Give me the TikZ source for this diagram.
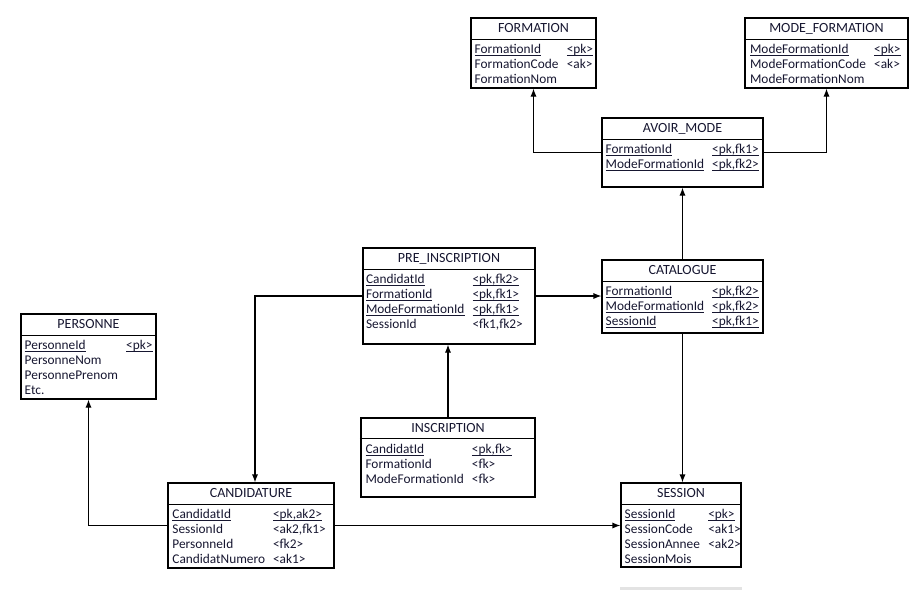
\documentclass[tikz,border=0pt]{standalone}
\usepackage{fontspec}
\setmainfont{Carlito}
\usetikzlibrary{arrows.meta,fit}
\definecolor{ink}{RGB}{22,22,48}
\newcommand\keyfield[1]{\underline{\smash{#1}}}
\newcommand\entity[2]{%
    \node[title] (#1-t) at ([yshift=-8.25pt]#1.north) {#2};
    \draw[line width=0.8pt] ([yshift=-16.5pt]#1.north west) -- ([yshift=-16.5pt]#1.north east);}
\begin{document}
\begin{tikzpicture}[x=0.75pt,y=-0.75pt,
        every node/.style = {font=\fontsize{10pt}{12pt}\selectfont, text=ink},
        table/.style = {draw, line width=0.8pt, inner sep=0pt},
        title/.style = {font=\fontsize{10.5pt}{12pt}\selectfont, inner sep=0pt},
        fields/.style = {inner sep=0pt, column sep=6pt, anchor=north west,
            nodes={anchor=base west, inner sep=0pt, text height=7.5pt, text depth=3.75pt}},
        link/.style = {line width=0.8pt, -{Latex[length=6pt,width=4.5pt]}}]
    \useasboundingbox (0,0) rectangle (924,590);

    \node[table, fit={(471,18) (596,88)}] (formation) {};
    \entity{formation}{FORMATION}
    \matrix [fields] (formation-f) at ([xshift=3pt,yshift=-19.5pt]formation.north west){
        \node {\keyfield{FormationId}}; & \node {\keyfield{<pk>}}; \\
        \node {FormationCode}; & \node {<ak>}; \\
        \node {FormationNom}; & \\
    };

    \node[table, fit={(745,18) (908,88)}] (modeformation) {};
    \entity{modeformation}{MODE\_FORMATION}
    \matrix [fields] (modeformation-f) at ([xshift=4pt,yshift=-19.5pt]modeformation.north west){
        \node {\keyfield{ModeFormationId}}; & \node {\keyfield{<pk>}}; \\
        \node {ModeFormationCode}; & \node {<ak>}; \\
        \node {ModeFormationNom}; & \\
    };

    \node[table, fit={(602,118) (763,187)}] (avoirmode) {};
    \entity{avoirmode}{AVOIR\_MODE}
    \matrix [fields] (avoirmode-f) at ([xshift=3pt,yshift=-19.5pt]avoirmode.north west){
        \node {\keyfield{FormationId}}; & \node {\keyfield{<pk,fk1>}}; \\
        \node {\keyfield{ModeFormationId}}; & \node {\keyfield{<pk,fk2>}}; \\
    };

    \node[table, fit={(363,248) (535,344)}] (preinscription) {};
    \entity{preinscription}{PRE\_INSCRIPTION}
    \matrix [fields] (preinscription-f) at ([xshift=2.5pt,yshift=-19.5pt]preinscription.north west){
        \node {\keyfield{CandidatId}}; & \node {\keyfield{<pk,fk2>}}; \\
        \node {\keyfield{FormationId}}; & \node {\keyfield{<pk,fk1>}}; \\
        \node {\keyfield{ModeFormationId}}; & \node {\keyfield{<pk,fk1>}}; \\
        \node {SessionId}; & \node {<fk1,fk2>}; \\
    };

    \node[table, fit={(602,260) (763,333)}] (catalogue) {};
    \entity{catalogue}{CATALOGUE}
    \matrix [fields] (catalogue-f) at ([xshift=3pt,yshift=-19.5pt]catalogue.north west){
        \node {\keyfield{FormationId}}; & \node {\keyfield{<pk,fk2>}}; \\
        \node {\keyfield{ModeFormationId}}; & \node {\keyfield{<pk,fk2>}}; \\
        \node {\keyfield{SessionId}}; & \node {\keyfield{<pk,fk1>}}; \\
    };

    \node[table, fit={(21,314) (156,399)}] (personne) {};
    \entity{personne}{PERSONNE}
    \matrix [fields] (personne-f) at ([xshift=3pt,yshift=-19.5pt]personne.north west){
        \node {\keyfield{PersonneId}}; & \node {\keyfield{<pk>}}; \\
        \node {PersonneNom}; & \\
        \node {PersonnePrenom}; & \\
        \node {Etc.}; & \\
    };

    \node[table, line width=1.6pt, fit={(361,418) (535,497)}] (inscription) {};
    \entity{inscription}{INSCRIPTION}
    \matrix [fields] (inscription-f) at ([xshift=4pt,yshift=-19.5pt]inscription.north west){
        \node {\keyfield{CandidatId}}; & \node {\keyfield{<pk,fk>}}; \\
        \node {FormationId}; & \node {<fk>}; \\
        \node {ModeFormationId}; & \node {<fk>}; \\
    };

    \node[table, fit={(168,483) (334,568)}] (candidature) {};
    \entity{candidature}{CANDIDATURE}
    \matrix [fields] (candidature-f) at ([xshift=3.5pt,yshift=-19.5pt]candidature.north west){
        \node {\keyfield{CandidatId}}; & \node {\keyfield{<pk,ak2>}}; \\
        \node {SessionId}; & \node {<ak2,fk1>}; \\
        \node {PersonneId}; & \node {<fk2>}; \\
        \node {CandidatNumero}; & \node {<ak1>}; \\
    };

    \node[table, fit={(621,483) (741,567)}] (session) {};
    \entity{session}{SESSION}
    \matrix [fields] (session-f) at ([xshift=3pt,yshift=-19.5pt]session.north west){
        \node {\keyfield{SessionId}}; & \node {\keyfield{<pk>}}; \\
        \node {SessionCode}; & \node {<ak1>}; \\
        \node {SessionAnnee}; & \node {<ak2>}; \\
        \node {SessionMois}; & \\
    };

    \draw[link] (avoirmode.west) -| (formation.south);
    \draw[link] (avoirmode.east) -| (modeformation.south);
    \draw[link] (catalogue.north) -- (avoirmode.south);
    \draw[link] (preinscription.east) -- (preinscription.east -| catalogue.west);
    \draw[link] (preinscription.west) -| ([xshift=3pt]candidature.north);
    \draw[link] (inscription.north) -- (inscription.north |- preinscription.south);
    \draw[link] (catalogue.south) -- (catalogue.south |- session.north);
    \draw[link] (candidature.east) -- (candidature.east -| session.west);
    \draw[link] (candidature.west) -| (personne.south);

    \fill[gray!22] (620,587) rectangle (742,590);
\end{tikzpicture}
\end{document}
